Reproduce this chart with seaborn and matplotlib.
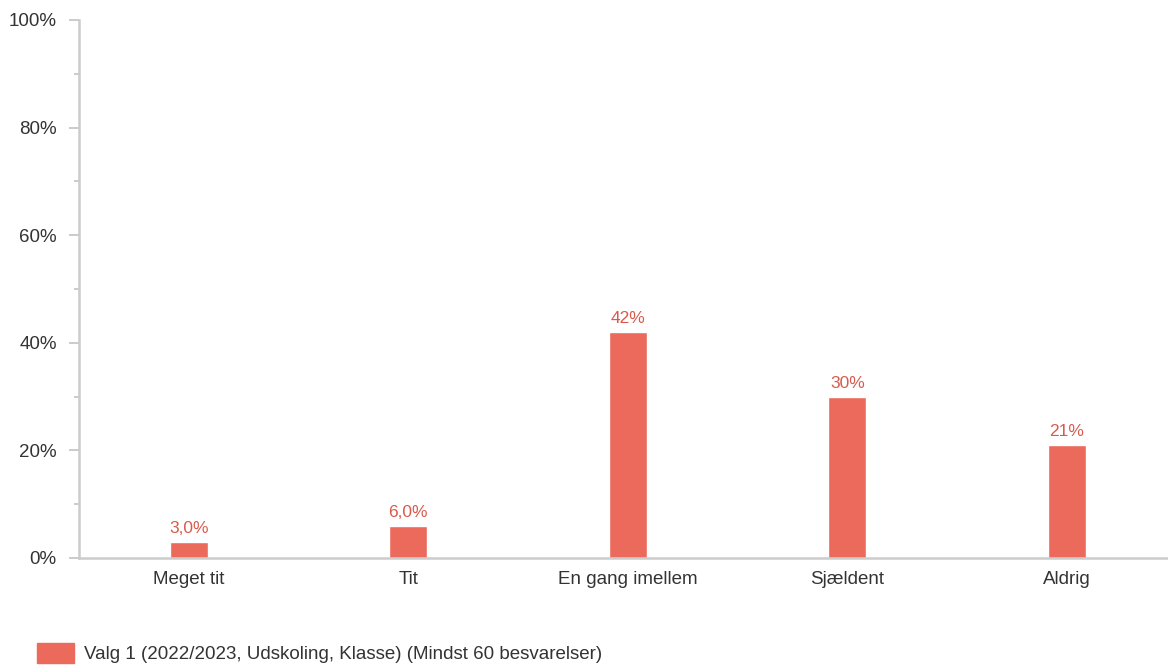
import matplotlib
matplotlib.use("Agg")
import matplotlib.pyplot as plt
import matplotlib.patches as mpatches
from matplotlib.ticker import MultipleLocator, FuncFormatter
import seaborn as sb
import pandas as pd

# dati
categorie = ["Meget tit", "Tit", "En gang imellem", "Sjældent", "Aldrig"]
valori = [3.0, 6.0, 42, 30, 21]
etichette = ["3,0%", "6,0%", "42%", "30%", "21%"]
serie = "Valg 1 (2022/2023, Udskoling, Klasse) (Mindst 60 besvarelser)"

colore_barra = "#eb6a5b"
colore_testo = "#d95a4c"
grigio = "#cccccc"

sb.set_style("white")
plt.rcParams["font.family"] = ["Liberation Sans", "DejaVu Sans"]

df = pd.DataFrame({"cat": categorie, "val": valori})

fig = plt.figure(figsize=(11.68, 6.65), dpi=100)
ax = fig.add_axes([79 / 1168, 107 / 665, 1097.5 / 1168, 538 / 665])

sb.barplot(data=df, x="cat", y="val", color=colore_barra, saturation=1,
           width=0.173, ax=ax)

ax.bar_label(ax.containers[0], labels=etichette, padding=4,
             color=colore_testo, fontsize=12.5)

ax.set_ylim(0, 100)
ax.set_xlim(-0.5, 4.5)
ax.yaxis.set_major_locator(MultipleLocator(20))
ax.yaxis.set_minor_locator(MultipleLocator(10))
ax.yaxis.set_major_formatter(FuncFormatter(lambda v, p: f"{int(v)}%"))
ax.tick_params(axis="y", which="major", length=7, width=1.44, color=grigio,
               labelsize=13.5, labelcolor="#333333", pad=9, left=True)
ax.tick_params(axis="y", which="minor", length=3.6, width=1.44, color=grigio, left=True)
ax.tick_params(axis="x", length=0, labelsize=13.5, labelcolor="#333333", pad=9)
ax.set_xlabel("")
ax.set_ylabel("")

for s in ["top", "right"]:
    ax.spines[s].set_visible(False)
for s in ["left", "bottom"]:
    ax.spines[s].set_color(grigio)
    ax.spines[s].set_linewidth(1.8)

handle = mpatches.Patch(color=colore_barra, label=serie)
fig.legend(handles=[handle], loc="center left", bbox_to_anchor=(37 / 1168, 12 / 665),
           frameon=False, fontsize=13.5, handlelength=1.97, handleheight=1.23,
           handletextpad=0.55, borderpad=0, borderaxespad=0, labelcolor="#333333")

fig.savefig("out.png", dpi=100)
